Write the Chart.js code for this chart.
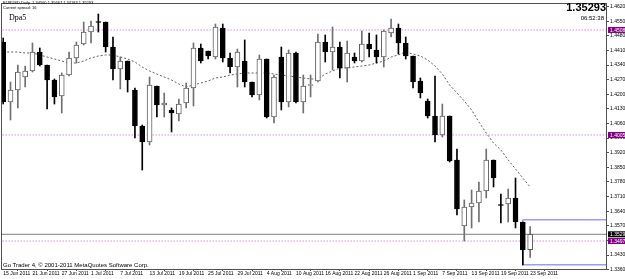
<!DOCTYPE html>
<html>
<head>
<meta charset="utf-8">
<script src="https://cdn.jsdelivr.net/npm/chart.js@4.4.0/dist/chart.umd.min.js"></script>
<style>
  html, body { margin: 0; padding: 0; background: #fff; }
  #wrap { position: relative; width: 625px; height: 279px; overflow: hidden; }
  canvas { position: absolute; left: 0; top: 0; }
  .lbl { position: absolute; font-family: "Liberation Sans", Arial, sans-serif; color: #000; white-space: nowrap; line-height: 1; }
</style>
</head>
<body>
<div id="wrap">
  <canvas id="chart" width="625" height="279"></canvas>
  <div class="lbl" style="left:3px;top:1px;font-size:4px">EURUSD,Daily&nbsp; 1.34560 1.35667 1.34183 1.35293</div>
  <div class="lbl" style="left:3px;top:6px;font-size:4px">Current spread: 16</div>
  <div class="lbl" style="left:9px;top:14px;font-size:8px;font-family:'Liberation Serif',serif">Dpa5</div>
  <div class="lbl" style="right:19px;top:2px;font-size:11px;font-weight:bold">1.35293</div>
  <div class="lbl" style="right:21px;top:15px;font-size:6px">06:52:38</div>
  <div class="lbl" style="left:3px;top:262px;font-size:6px">Go Trader 4, © 2001-2011 MetaQuotes Software Corp.</div>
</div>
<script>
// EURUSD daily, 15 Jun 2011 .. 23 Sep 2011 (bar index 0..72)
const tickDates = ['15 Jun 2011', '21 Jun 2011', '27 Jun 2011', '1 Jul 2011', '7 Jul 2011', '13 Jul 2011',
    '19 Jul 2011', '25 Jul 2011', '29 Jul 2011', '4 Aug 2011', '10 Aug 2011', '16 Aug 2011', '22 Aug 2011',
    '26 Aug 2011', '1 Sep 2011', '7 Sep 2011', '13 Sep 2011', '19 Sep 2011', '23 Sep 2011'];
const tickBars = [0, 4, 8, 12, 16, 20, 24, 28, 32, 36, 40, 44, 48, 52, 56, 60, 64, 68, 72];

const opens = [
    1.44504, 1.41630, 1.42205, 1.42828, 1.43115, 1.44025, 1.43403, 1.42684, 1.41918, 1.42924,
    1.43738, 1.44408, 1.44983, 1.45462, 1.45462, 1.44265, 1.43211, 1.43594, 1.42205, 1.40481,
    1.39714, 1.42397, 1.41487, 1.41247, 1.41055, 1.41582, 1.42301, 1.44217, 1.44073, 1.43786,
    1.45175, 1.43738, 1.43307, 1.43594, 1.42588, 1.41966, 1.43690, 1.40912, 1.43786, 1.41630,
    1.43977, 1.41630, 1.42421, 1.42636, 1.44504, 1.44025, 1.44265, 1.43259, 1.43786, 1.43594,
    1.44408, 1.44121, 1.43786, 1.44935, 1.45175, 1.44456, 1.43834, 1.42636, 1.41678, 1.40960,
    1.40050, 1.40960, 1.38852, 1.35691, 1.36601, 1.36792, 1.37367, 1.38852, 1.36696, 1.36744,
    1.37032, 1.35882, 1.34560];
const highs = [
    1.44696, 1.42588, 1.43403, 1.43355, 1.44456, 1.44217, 1.43403, 1.42732, 1.43019, 1.44025,
    1.44504, 1.45462, 1.45510, 1.45845, 1.45462, 1.44744, 1.43786, 1.43594, 1.42301, 1.40529,
    1.42828, 1.42397, 1.42061, 1.41343, 1.41774, 1.42540, 1.44456, 1.44408, 1.44073, 1.45366,
    1.45366, 1.43977, 1.44169, 1.44600, 1.42588, 1.43882, 1.43690, 1.42924, 1.44265, 1.44121,
    1.44025, 1.42924, 1.42924, 1.44887, 1.44840, 1.45223, 1.44504, 1.44552, 1.43977, 1.45031,
    1.44935, 1.44840, 1.45079, 1.45606, 1.45366, 1.44744, 1.43834, 1.42780, 1.41774, 1.42876,
    1.41534, 1.40960, 1.39379, 1.36936, 1.37415, 1.37798, 1.39379, 1.38852, 1.37223, 1.37463,
    1.37990, 1.35882, 1.35667];
const lows = [
    1.41534, 1.40768, 1.41343, 1.42349, 1.43067, 1.43355, 1.41295, 1.41534, 1.41103, 1.42876,
    1.43498, 1.44361, 1.44456, 1.44983, 1.44025, 1.42684, 1.42253, 1.42109, 1.39906, 1.38373,
    1.39571, 1.40912, 1.40912, 1.40193, 1.40720, 1.41343, 1.41439, 1.43498, 1.43690, 1.43690,
    1.43546, 1.43019, 1.42349, 1.42349, 1.41870, 1.41726, 1.40864, 1.40624, 1.41247, 1.41391,
    1.41582, 1.41103, 1.41870, 1.42588, 1.43546, 1.43163, 1.42780, 1.42588, 1.43498, 1.43546,
    1.43786, 1.43498, 1.43307, 1.44744, 1.43929, 1.43690, 1.42301, 1.41822, 1.40864, 1.39714,
    1.39954, 1.38756, 1.36218, 1.34972, 1.35595, 1.35882, 1.37032, 1.37559, 1.35834, 1.35882,
    1.35595, 1.33823, 1.34183];
const closes = [
    1.41630, 1.42205, 1.43067, 1.43115, 1.44025, 1.43403, 1.42684, 1.41870, 1.42924, 1.43738,
    1.44361, 1.44983, 1.45271, 1.45438, 1.44265, 1.43211, 1.43594, 1.42684, 1.40481, 1.39714,
    1.42445, 1.41487, 1.41582, 1.41103, 1.41534, 1.42301, 1.44217, 1.43594, 1.43834, 1.45223,
    1.43738, 1.43307, 1.44025, 1.42588, 1.41966, 1.43690, 1.40912, 1.42828, 1.41630, 1.43977,
    1.41630, 1.42397, 1.42445, 1.44504, 1.44025, 1.44265, 1.43259, 1.43977, 1.43594, 1.44408,
    1.44169, 1.43786, 1.45031, 1.45175, 1.44456, 1.43834, 1.42588, 1.42061, 1.40960, 1.40050,
    1.40960, 1.38804, 1.36505, 1.36601, 1.36792, 1.37367, 1.38852, 1.37990, 1.36672, 1.37032,
    1.35882, 1.34541, 1.35293];
// dotted moving average
const maValues = [
    1.44025, 1.44025, 1.44025, 1.43977, 1.43977, 1.43882, 1.43786, 1.43690, 1.43594, 1.43498,
    1.43498, 1.43594, 1.43738, 1.43834, 1.43882, 1.43882, 1.43786, 1.43690, 1.43546, 1.43307,
    1.43115, 1.42971, 1.42828, 1.42684, 1.42492, 1.42349, 1.42445, 1.42540, 1.42636, 1.42780,
    1.42828, 1.42924, 1.42971, 1.43019, 1.43019, 1.43019, 1.43019, 1.42971, 1.42924, 1.42876,
    1.42828, 1.42780, 1.42732, 1.42732, 1.42971, 1.43115, 1.43259, 1.43259, 1.43307, 1.43355,
    1.43403, 1.43498, 1.43594, 1.43786, 1.43882, 1.44025, 1.43929, 1.43834, 1.43642, 1.43355,
    1.42971, 1.42445, 1.42061, 1.41678, 1.41247, 1.40672, 1.40145, 1.39666, 1.39331, 1.38852,
    1.38421, 1.37990, 1.37559];

const priceTicks = [1.462, 1.455, 1.448, 1.441, 1.434, 1.427, 1.420, 1.413, 1.406, 1.399,
    1.392, 1.385, 1.378, 1.371, 1.364, 1.357, 1.350, 1.343, 1.336];
const levels = [1.45080, 1.40050, 1.34970];   // magenta dotted lines
const bidPrice = 1.35293;
const boxTop = 1.35990, boxBottom = 1.33840, boxStartBar = 71;

const xMin = -0.3, xMax = 82.5;
const yMin = 1.33631, yMax = 1.46372;

const bodies = opens.map((o, i) => ({ x: i, y: [Math.min(o, closes[i]), Math.max(o, closes[i])] }));
const wicks = opens.map((o, i) => ({ x: i, y: [lows[i], highs[i]] }));
const isUp = opens.map((o, i) => closes[i] >= o);

const flatLine = (v, from) => [{ x: from, y: v }, { x: xMax + 1, y: v }];

const axisTags = {
    id: 'axisTags',
    afterDraw(chart) {
        const { ctx, chartArea, scales: { y } } = chart;
        ctx.save();
        ctx.strokeStyle = '#505050';
        ctx.lineWidth = 1;
        ctx.strokeRect(chartArea.left + 0.5, chartArea.top + 0.5,
            chartArea.right - chartArea.left - 1, chartArea.bottom - chartArea.top);
        ctx.font = '5px "Liberation Sans"';
        ctx.textBaseline = 'middle';
        const tags = levels.map(v => [v, '#800080']).concat([[bidPrice, '#000000']]);
        tags.forEach(([v, c]) => {
            const py = y.getPixelForValue(v);
            ctx.fillStyle = c;
            ctx.fillRect(y.left + 1, py - 3, y.width, 6);
            ctx.fillStyle = '#ffffff';
            ctx.fillText(v.toFixed(5), y.left + 3, py + 0.5);
        });
        ctx.restore();
    }
};

new Chart(document.getElementById('chart'), {
    type: 'bar',
    data: {
        datasets: [
            {
                data: bodies, order: 0, grouped: false, barThickness: 5, minBarLength: 1,
                backgroundColor: isUp.map(u => u ? '#ffffff' : '#000000'),
                borderColor: isUp.map(u => u ? '#606060' : '#000000'),
                borderWidth: 1, borderSkipped: false
            },
            {
                data: wicks, order: 1, grouped: false, barThickness: 1,
                backgroundColor: isUp.map(u => u ? '#707070' : '#000000'),
                borderWidth: 0
            },
            {
                type: 'line', order: 2, data: flatLine(bidPrice, xMin - 1),
                borderColor: '#808080', borderWidth: 1, pointRadius: 0
            },
            {
                type: 'line', order: 3,
                data: [{ x: boxStartBar, y: boxTop }, { x: xMax + 1, y: boxTop }, { x: xMax + 1, y: boxBottom },
                    { x: boxStartBar, y: boxBottom }, { x: boxStartBar, y: boxTop }],
                borderColor: '#9c9cf0', borderWidth: 1.5, pointRadius: 0
            },
            ...levels.map(v => ({
                type: 'line', order: 4, data: flatLine(v, xMin - 1),
                borderColor: '#cc55cc', borderWidth: 1, borderDash: [1, 2], pointRadius: 0
            })),
            {
                type: 'line', order: 5, data: maValues.map((v, i) => ({ x: i, y: v })),
                borderColor: '#606060', borderWidth: 1, borderDash: [2, 2], pointRadius: 0, tension: 0
            }
        ]
    },
    options: {
        responsive: false,
        animation: false,
        layout: { padding: { left: 1, top: 3, right: 0, bottom: 0 } },
        plugins: { legend: { display: false }, tooltip: { enabled: false } },
        scales: {
            x: {
                type: 'linear', min: xMin, max: xMax, offset: false,
                grid: { drawOnChartArea: false, drawTicks: true, tickLength: 2, color: '#505050' },
                border: { display: false },
                afterBuildTicks: s => { s.ticks = tickBars.map(v => ({ value: v })); },
                afterFit: s => { s.height = 10; s.paddingLeft = 0; s.paddingRight = 0; },
                ticks: {
                    autoSkip: false, maxRotation: 0, minRotation: 0, align: 'start', padding: 0,
                    color: '#000', font: { family: 'Liberation Sans', size: 5 },
                    callback: (v, i) => tickDates[i]
                }
            },
            y: {
                position: 'right', min: yMin, max: yMax,
                grid: { drawOnChartArea: false, drawTicks: true, tickLength: 2, color: '#505050' },
                border: { display: false },
                afterBuildTicks: s => { s.ticks = priceTicks.map(v => ({ value: v })); },
                afterFit: s => { s.width = 18; s.paddingTop = 0; s.paddingBottom = 0; },
                ticks: {
                    padding: 1, color: '#000', font: { family: 'Liberation Sans', size: 5 },
                    callback: v => v.toFixed(5)
                }
            }
        }
    },
    plugins: [axisTags]
});
</script>
</body>
</html>
